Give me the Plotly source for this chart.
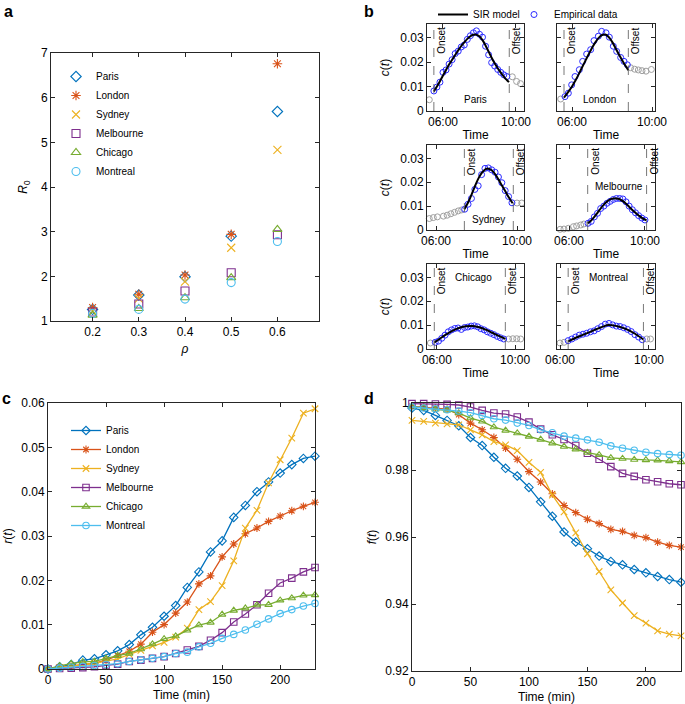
import plotly.graph_objects as go

W, H = 685, 704

cities = ["Paris", "London", "Sydney", "Melbourne", "Chicago", "Montreal"]
colors = ["#0072BD", "#D95319", "#EDB120", "#7E2F8E", "#77AC30", "#4DBEEE"]
symbols = ["diamond-open", "asterisk-open", "x-thin-open", "square-open", "triangle-up-open", "circle-open"]

# ---------------- panel a ----------------
rho = [0.2, 0.3, 0.4, 0.5, 0.6]
r0_paris = [1.26, 1.58, 1.99, 2.90, 5.69]
r0_london = [1.30, 1.60, 2.03, 2.94, 6.76]
r0_sydney = [1.22, 1.50, 1.88, 2.64, 4.83]
r0_melbourne = [1.20, 1.38, 1.67, 2.08, 2.93]
r0_chicago = [1.13, 1.28, 1.52, 1.97, 3.05]
r0_montreal = [1.17, 1.26, 1.49, 1.86, 2.78]

# ---------------- panel c / d ----------------
t_min = list(range(0, 231, 10))
r_paris = [0, 0.0005, 0.0010, 0.0020, 0.0023, 0.0032, 0.0041, 0.0055, 0.0077, 0.0094, 0.0119, 0.0143, 0.0184, 0.0219, 0.0264, 0.0289, 0.0342, 0.0369, 0.0400, 0.0422, 0.0442, 0.0461, 0.0475, 0.0480]
r_london = [0, 0.0003, 0.0006, 0.0010, 0.0013, 0.0020, 0.0030, 0.0040, 0.0056, 0.0083, 0.0100, 0.0126, 0.0151, 0.0192, 0.0210, 0.0253, 0.0282, 0.0305, 0.0318, 0.0333, 0.0345, 0.0357, 0.0367, 0.0376]
r_sydney = [0, 0.0003, 0.0006, 0.0010, 0.0013, 0.0018, 0.0023, 0.0033, 0.0042, 0.0052, 0.0060, 0.0072, 0.0092, 0.0134, 0.0152, 0.0188, 0.0244, 0.0318, 0.0358, 0.0420, 0.0472, 0.0521, 0.0577, 0.0587]
r_melbourne = [0, 0.0001, 0.0002, 0.0003, 0.0005, 0.0008, 0.0011, 0.0017, 0.0020, 0.0024, 0.0028, 0.0035, 0.0043, 0.0051, 0.0065, 0.0082, 0.0106, 0.0124, 0.0145, 0.0171, 0.0194, 0.0205, 0.0219, 0.0229]
r_chicago = [0, 0.0007, 0.0012, 0.0016, 0.0017, 0.0024, 0.0030, 0.0035, 0.0045, 0.0056, 0.0068, 0.0074, 0.0087, 0.0099, 0.0105, 0.0123, 0.0132, 0.0137, 0.0144, 0.0145, 0.0155, 0.0160, 0.0166, 0.0167]
r_montreal = [0, 0.0002, 0.0004, 0.0006, 0.0008, 0.0010, 0.0012, 0.0017, 0.0021, 0.0024, 0.0028, 0.0035, 0.0038, 0.0050, 0.0058, 0.0069, 0.0078, 0.0088, 0.0101, 0.0113, 0.0125, 0.0134, 0.0142, 0.0148]

f_paris = [0.9985, 0.9978, 0.9963, 0.9948, 0.9932, 0.9897, 0.9873, 0.9838, 0.9805, 0.9782, 0.9748, 0.9705, 0.9662, 0.9615, 0.9585, 0.9565, 0.9543, 0.9527, 0.9517, 0.9503, 0.9493, 0.9482, 0.9473, 0.9465]
f_london = [0.9990, 0.9988, 0.9985, 0.9982, 0.9965, 0.9940, 0.9920, 0.9897, 0.9865, 0.9832, 0.9795, 0.9764, 0.9729, 0.9694, 0.9673, 0.9653, 0.9640, 0.9623, 0.9617, 0.9605, 0.9598, 0.9585, 0.9575, 0.9570]
f_sydney = [0.9948, 0.9945, 0.9940, 0.9938, 0.9935, 0.9920, 0.9905, 0.9885, 0.9875, 0.9858, 0.9823, 0.9793, 0.9725, 0.9675, 0.9612, 0.9550, 0.9497, 0.9442, 0.9403, 0.9365, 0.9343, 0.9320, 0.9310, 0.9305]
f_melbourne = [0.9998, 0.9998, 0.9997, 0.9996, 0.9994, 0.9988, 0.9978, 0.9970, 0.9967, 0.9958, 0.9943, 0.9922, 0.9905, 0.9891, 0.9873, 0.9850, 0.9832, 0.9810, 0.9790, 0.9781, 0.9771, 0.9765, 0.9759, 0.9756]
f_chicago = [0.9990, 0.9985, 0.9981, 0.9978, 0.9970, 0.9955, 0.9945, 0.9928, 0.9918, 0.9910, 0.9900, 0.9891, 0.9880, 0.9870, 0.9862, 0.9852, 0.9845, 0.9836, 0.9834, 0.9831, 0.9830, 0.9829, 0.9827, 0.9824]
f_montreal = [0.9988, 0.9985, 0.9983, 0.9980, 0.9976, 0.9971, 0.9963, 0.9953, 0.9949, 0.9940, 0.9933, 0.9920, 0.9911, 0.9901, 0.9895, 0.9890, 0.9883, 0.9872, 0.9865, 0.9859, 0.9853, 0.9849, 0.9846, 0.9844]

# ---------------- panel b (time in minutes after 06:00) ----------------
paris_pre_t, paris_pre_c = [-45], [0.0046]
paris_emp_t = [-30, -20, -10, 0, 10, 20, 30, 40, 50, 60, 70, 80, 90, 100, 110, 120, 130, 140, 150, 160, 170, 180, 190, 200, 210]
paris_emp_c = [0.0082, 0.0098, 0.0118, 0.0158, 0.0168, 0.0192, 0.0210, 0.0235, 0.0245, 0.0262, 0.0270, 0.0293, 0.0308, 0.0320, 0.0328, 0.0314, 0.0302, 0.0265, 0.0230, 0.0198, 0.0184, 0.0170, 0.0158, 0.0148, 0.0141]
paris_post_t, paris_post_c = [228, 242, 255], [0.0140, 0.0121, 0.0112]
paris_fit_t = [-30, -20, -10, 0, 10, 20, 30, 40, 50, 60, 70, 80, 90, 100, 110, 120, 130, 140, 150, 160, 170, 180, 190, 200, 210, 217]
paris_fit_c = [0.0080, 0.0100, 0.0122, 0.0145, 0.0168, 0.0190, 0.0210, 0.0229, 0.0248, 0.0266, 0.0281, 0.0295, 0.0306, 0.0312, 0.0312, 0.0305, 0.0290, 0.0268, 0.0243, 0.0218, 0.0195, 0.0175, 0.0157, 0.0141, 0.0127, 0.0118]

london_pre_t, london_pre_c = [-34], [0.0049]
london_emp_t = [-21, -11, -1, 9, 22, 32, 44, 56, 66, 79, 89, 102, 112, 124, 134, 146, 156, 166]
london_emp_c = [0.0059, 0.0073, 0.0107, 0.0141, 0.0169, 0.0203, 0.0233, 0.0251, 0.0288, 0.0306, 0.0326, 0.0320, 0.0302, 0.0265, 0.0244, 0.0219, 0.0203, 0.0189]
london_post_t, london_post_c = [176, 188, 199, 210, 222, 238], [0.0177, 0.0171, 0.0168, 0.0165, 0.0163, 0.0170]
london_fit_t = [-24, -10, 0, 10, 20, 30, 40, 50, 60, 70, 80, 90, 100, 110, 120, 130, 140, 150, 160, 169]
london_fit_c = [0.0055, 0.0080, 0.0100, 0.0124, 0.0150, 0.0178, 0.0205, 0.0232, 0.0258, 0.0281, 0.0299, 0.0311, 0.0313, 0.0303, 0.0284, 0.0259, 0.0233, 0.0209, 0.0186, 0.0167]

sydney_pre_t = [-20, -8, 4, 22, 33, 44, 55, 66, 76]
sydney_pre_c = [0.0048, 0.0052, 0.0055, 0.0058, 0.0062, 0.0068, 0.0074, 0.0080, 0.0084]
sydney_emp_t = [85, 95, 105, 115, 125, 135, 145, 155, 165, 175, 185, 195, 205, 215, 225]
sydney_emp_c = [0.0087, 0.0108, 0.0132, 0.0170, 0.0185, 0.0232, 0.0258, 0.0260, 0.0252, 0.0242, 0.0222, 0.0198, 0.0165, 0.0140, 0.0114]
sydney_post_t, sydney_post_c = [240, 254], [0.0113, 0.0113]
sydney_fit_t = [84, 95, 105, 115, 125, 135, 145, 155, 165, 175, 185, 195, 205, 215, 227]
sydney_fit_c = [0.0087, 0.0115, 0.0147, 0.0182, 0.0214, 0.0238, 0.0253, 0.0257, 0.0250, 0.0234, 0.0212, 0.0187, 0.0163, 0.0138, 0.0112]

melbourne_pre_t = [-28, -16, -2, 14, 24, 37, 47]
melbourne_pre_c = [0.0003, 0.0004, 0.0007, 0.0014, 0.0017, 0.0021, 0.0025]
melbourne_emp_t = [60, 70, 80, 90, 100, 110, 120, 130, 140, 150, 160, 170, 180, 190, 200, 210, 220, 230, 240]
melbourne_emp_c = [0.0028, 0.0036, 0.0055, 0.0070, 0.0090, 0.0100, 0.0112, 0.0120, 0.0128, 0.0132, 0.0132, 0.0130, 0.0118, 0.0100, 0.0085, 0.0072, 0.0060, 0.0050, 0.0042]
melbourne_post_t, melbourne_post_c = [], []
melbourne_fit_t = [59, 70, 80, 90, 100, 110, 120, 130, 140, 150, 160, 170, 180, 190, 200, 210, 220, 230, 245]
melbourne_fit_c = [0.0028, 0.0040, 0.0055, 0.0072, 0.0090, 0.0106, 0.0119, 0.0128, 0.0132, 0.0132, 0.0129, 0.0121, 0.0110, 0.0097, 0.0084, 0.0072, 0.0061, 0.0051, 0.0040]

chicago_pre_t, chicago_pre_c = [-20], [0.0025]
chicago_emp_t = [-5, 5, 15, 25, 35, 45, 55, 65, 75, 85, 95, 105, 115, 125, 135, 145, 155, 165, 175, 185, 195, 205]
chicago_emp_c = [0.0028, 0.0033, 0.0045, 0.0058, 0.0072, 0.0080, 0.0086, 0.0088, 0.0082, 0.0090, 0.0092, 0.0096, 0.0097, 0.0093, 0.0085, 0.0080, 0.0072, 0.0066, 0.0060, 0.0053, 0.0047, 0.0042]
chicago_post_t, chicago_post_c = [220, 233, 245, 257], [0.0042, 0.0043, 0.0043, 0.0042]
chicago_fit_t = [-8, 10, 30, 50, 70, 90, 110, 130, 150, 170, 190, 210]
chicago_fit_c = [0.0027, 0.0044, 0.0062, 0.0078, 0.0089, 0.0095, 0.0096, 0.0091, 0.0081, 0.0068, 0.0055, 0.0042]

montreal_pre_t, montreal_pre_c = [0, 11], [0.0025, 0.0028]
montreal_emp_t = [22, 32, 42, 52, 62, 72, 82, 92, 102, 112, 122, 132, 142, 152, 162, 172, 182, 192, 202, 212, 222]
montreal_emp_c = [0.0035, 0.0042, 0.0050, 0.0058, 0.0062, 0.0066, 0.0072, 0.0076, 0.0085, 0.0094, 0.0104, 0.0107, 0.0101, 0.0096, 0.0094, 0.0089, 0.0082, 0.0073, 0.0060, 0.0050, 0.0039]
montreal_post_t, montreal_post_c = [234, 244], [0.0042, 0.0042]
montreal_fit_t = [22, 40, 60, 80, 100, 120, 130, 140, 160, 180, 200, 225]
montreal_fit_c = [0.0032, 0.0045, 0.0058, 0.0071, 0.0084, 0.0096, 0.0100, 0.0099, 0.0093, 0.0082, 0.0066, 0.0040]

onset_t = [-30, -24, 84, 59, -8, 22]
offset_t = [218, 169, 229, 245, 210, 225]
b_xranges = [[-52.6, 266.4], [-45, 249], [-26.7, 260.7], [-37.9, 271.6], [-30.4, 267.3], [-8.1, 256.2]]
city_label_t = [108, 81, 155, 158, 111, 130]
city_label_c = [0.0049, 0.0049, 0.0042, 0.0183, 0.0299, 0.0299]

# ---------------- assemble ----------------
r0_all = [r0_paris, r0_london, r0_sydney, r0_melbourne, r0_chicago, r0_montreal]
r_all = [r_paris, r_london, r_sydney, r_melbourne, r_chicago, r_montreal]
f_all = [f_paris, f_london, f_sydney, f_melbourne, f_chicago, f_montreal]
b_data = [
    (paris_pre_t, paris_pre_c, paris_emp_t, paris_emp_c, paris_post_t, paris_post_c, paris_fit_t, paris_fit_c),
    (london_pre_t, london_pre_c, london_emp_t, london_emp_c, london_post_t, london_post_c, london_fit_t, london_fit_c),
    (sydney_pre_t, sydney_pre_c, sydney_emp_t, sydney_emp_c, sydney_post_t, sydney_post_c, sydney_fit_t, sydney_fit_c),
    (melbourne_pre_t, melbourne_pre_c, melbourne_emp_t, melbourne_emp_c, melbourne_post_t, melbourne_post_c, melbourne_fit_t, melbourne_fit_c),
    (chicago_pre_t, chicago_pre_c, chicago_emp_t, chicago_emp_c, chicago_post_t, chicago_post_c, chicago_fit_t, chicago_fit_c),
    (montreal_pre_t, montreal_pre_c, montreal_emp_t, montreal_emp_c, montreal_post_t, montreal_post_c, montreal_fit_t, montreal_fit_c),
]

FONT = "Liberation Sans, Arial, sans-serif"
AX = "#262626"


def xdom(p0, p1):
    return [p0 / W, p1 / W]


def ydom(p0, p1):
    return [1 - p1 / H, 1 - p0 / H]


def axis(**kw):
    d = dict(showline=True, linecolor=AX, linewidth=0.8, mirror="ticks", ticks="inside",
             ticklen=4, tickcolor=AX, tickwidth=0.8, showgrid=False, zeroline=False,
             automargin=False,
             tickfont=dict(size=12, color="#000", family=FONT),
             title_font=dict(size=12, color="#000", family=FONT))
    d.update(kw)
    return d


fig = go.Figure()
layout = {}

# panel a
for i, c in enumerate(cities):
    fig.add_trace(go.Scatter(x=rho, y=r0_all[i], mode="markers", name=c, legend="legend",
                             marker=dict(symbol=symbols[i], size=8, color=colors[i], line=dict(width=1.1)),
                             xaxis="x", yaxis="y", cliponaxis=False))
layout["xaxis"] = axis(domain=xdom(51, 319), range=[0.11, 0.69], anchor="y",
                       tickvals=rho, ticktext=["0.2", "0.3", "0.4", "0.5", "0.6"],
                       title=dict(text="<i>ρ</i>", standoff=6))
layout["yaxis"] = axis(domain=ydom(53, 321), range=[1, 7], anchor="x", dtick=1,
                       title=dict(text="<i>R</i><sub>0</sub>", standoff=10))

# panel b
b_rows = [(24, 111), (145, 230), (264, 349)]
b_cols = [(427, 524), (557, 655)]
shapes = []
annotations = []
for i, c in enumerate(cities):
    k = i + 2
    row, col = i // 2, i % 2
    xa, ya = f"x{k}", f"y{k}"
    pre_t, pre_c, emp_t, emp_c, post_t, post_c, fit_t, fit_c = b_data[i]
    grey = dict(symbol="circle-open", size=6, color="#a0a0a0", line=dict(width=1))
    fig.add_trace(go.Scatter(x=pre_t, y=pre_c, mode="markers", marker=grey, showlegend=False,
                             xaxis=xa, yaxis=ya, cliponaxis=False))
    fig.add_trace(go.Scatter(x=post_t, y=post_c, mode="markers", marker=grey, showlegend=False,
                             xaxis=xa, yaxis=ya, cliponaxis=False))
    fig.add_trace(go.Scatter(x=emp_t, y=emp_c, mode="markers", name="Empirical data",
                             legend="legend2", legendrank=2, showlegend=(i == 0), legendwidth=80,
                             marker=dict(symbol="circle-open", size=6, color="#2b2bff", line=dict(width=1)),
                             xaxis=xa, yaxis=ya, cliponaxis=False))
    fig.add_trace(go.Scatter(x=fit_t, y=fit_c, mode="lines", name="SIR model",
                             legend="legend2", legendrank=1, showlegend=(i == 0), legendwidth=36,
                             line=dict(color="black", width=2, shape="spline"),
                             xaxis=xa, yaxis=ya))
    left = col == 0
    yax = axis(domain=ydom(*b_rows[row]), range=[0, 0.0356], anchor=xa,
               tickvals=[0, 0.01, 0.02, 0.03],
               ticktext=["0", "0.01", "0.02", "0.03"], showticklabels=left)
    if left:
        yax["title"] = dict(text="<i>c</i>(<i>t</i>)", standoff=8)
    layout[f"xaxis{k}"] = axis(domain=xdom(*b_cols[col]), range=b_xranges[i], anchor=ya,
                               tickvals=[0, 240], ticktext=["06:00", "10:00"],
                               title=dict(text="Time", standoff=2))
    layout[f"yaxis{k}"] = yax
    for tv, lab in ((onset_t[i], "Onset"), (offset_t[i], "Offset")):
        shapes.append(dict(type="line", xref=xa, yref=f"{ya} domain", x0=tv, x1=tv, y0=0, y1=1,
                           line=dict(color="#555", width=0.8, dash="dash")))
        annotations.append(dict(text=lab, xref=xa, yref=f"{ya} domain", x=tv, y=1,
                                xanchor="left", yanchor="top", textangle=-90, showarrow=False,
                                xshift=0, yshift=-1, font=dict(size=10, color="#000", family=FONT)))
    annotations.append(dict(text=c, xref=xa, yref=ya, x=city_label_t[i], y=city_label_c[i],
                            showarrow=False, font=dict(size=10, color="#000", family=FONT)))

# panel c
for i, c in enumerate(cities):
    fig.add_trace(go.Scatter(x=t_min, y=r_all[i], mode="lines+markers", name=c, legend="legend3",
                             line=dict(color=colors[i], width=1.3),
                             marker=dict(symbol=symbols[i], size=6.5, color=colors[i], line=dict(width=1.1)),
                             xaxis="x8", yaxis="y8", cliponaxis=False))
layout["xaxis8"] = axis(domain=xdom(48, 315), range=[0, 230], anchor="y8",
                        tickvals=[0, 50, 100, 150, 200],
                        title=dict(text="Time (min)", standoff=4))
layout["yaxis8"] = axis(domain=ydom(403, 669), range=[0, 0.06], anchor="x8",
                        tickvals=[0, 0.01, 0.02, 0.03, 0.04, 0.05, 0.06],
                        ticktext=["0", "0.01", "0.02", "0.03", "0.04", "0.05", "0.06"],
                        title=dict(text="<i>r</i>(<i>t</i>)", standoff=6))

# panel d
for i, c in enumerate(cities):
    fig.add_trace(go.Scatter(x=t_min, y=f_all[i], mode="lines+markers", name=c, showlegend=False,
                             line=dict(color=colors[i], width=1.3),
                             marker=dict(symbol=symbols[i], size=6.5, color=colors[i], line=dict(width=1.1)),
                             xaxis="x9", yaxis="y9", cliponaxis=False))
layout["xaxis9"] = axis(domain=xdom(412, 681), range=[0, 230], anchor="y9",
                        tickvals=[0, 50, 100, 150, 200],
                        title=dict(text="Time (min)", standoff=4))
layout["yaxis9"] = axis(domain=ydom(403, 671), range=[0.92, 1], anchor="x9",
                        tickvals=[0.92, 0.94, 0.96, 0.98, 1],
                        ticktext=["0.92", "0.94", "0.96", "0.98", "1"],
                        title=dict(text="<i>f</i>(<i>t</i>)", standoff=6))

for lab, px, py in (("a", 2, 1), ("b", 362, 1), ("c", 0, 388), ("d", 362, 388)):
    annotations.append(dict(text=f"<b>{lab}</b>", xref="paper", yref="paper", x=px / W, y=1 - py / H,
                            xanchor="left", yanchor="top", showarrow=False,
                            font=dict(size=16, color="#000", family=FONT)))

fig.update_layout(
    template="none",
    width=W, height=H, autosize=False,
    margin=dict(l=0, r=0, t=0, b=0, pad=0),
    paper_bgcolor="white", plot_bgcolor="white",
    font=dict(family=FONT, size=12, color="#000"),
    showlegend=True,
    legend=dict(x=56 / W, y=1 - 62 / H, xanchor="left", yanchor="top", bgcolor="rgba(0,0,0,0)",
                font=dict(size=10, family=FONT), tracegroupgap=0),
    legend2=dict(x=433 / W, y=1 - 0 / H, xanchor="left", yanchor="top", orientation="h",
                 bgcolor="rgba(0,0,0,0)", font=dict(size=10, family=FONT)),
    legend3=dict(x=66 / W, y=1 - 416 / H, xanchor="left", yanchor="top", bgcolor="rgba(0,0,0,0)",
                 font=dict(size=10, family=FONT)),
    shapes=shapes, annotations=annotations,
    **layout,
)

fig.write_html("out.html", config={"displayModeBar": False},
               post_script="document.body.style.margin='0px';document.body.style.padding='0px';")
